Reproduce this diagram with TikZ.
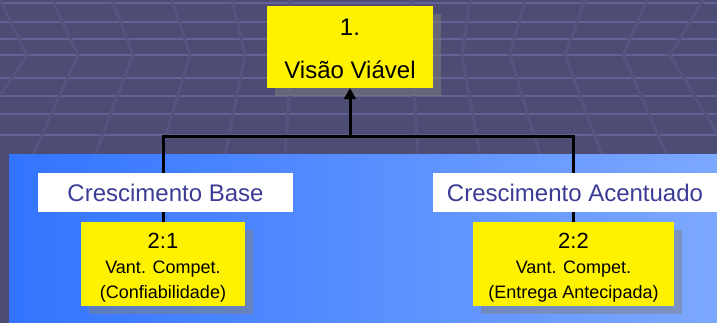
\documentclass[tikz,border=0pt]{standalone}
\usepackage{fontspec}
\setmainfont{Liberation Sans}
\usetikzlibrary{positioning,arrows.meta,shadows}

\definecolor{fundo}{RGB}{76,76,116}
\definecolor{grade}{RGB}{98,98,150}
\definecolor{trilho}{RGB}{84,84,126}
\definecolor{azulesq}{RGB}{51,116,255}
\definecolor{azuldir}{RGB}{124,168,255}
\definecolor{rotulo}{RGB}{60,60,150}

\pgfdeclarelayer{piso}
\pgfdeclarelayer{linhas}
\pgfsetlayers{piso,linhas,main}

\begin{document}
\begin{tikzpicture}[x=1pt,y=1pt,node distance=10pt]
	\tikzset{
		meta/.style={rectangle, fill=yellow, inner sep=0pt, align=center, text=black,
			drop shadow={shadow xshift=8pt, shadow yshift=-8pt, fill=gray, opacity=.5}},
		faixa/.style={rectangle, fill=white, inner sep=0pt, minimum height=39pt, text=rotulo,
			font=\fontsize{24}{29}\selectfont},
		ligacao/.style={line width=3pt, black},
		seta/.style={ligacao, -{Triangle[width=12pt,length=11pt]}}
	}
	\useasboundingbox (0,0) rectangle (717,323);

	% fundo
	\begin{pgfonlayer}{piso}
		\fill[fundo] (0,0) rectangle (717,323);
		\foreach \y in {3,22,39,55,78,96,114,135}
			\draw[grade, line width=1.5pt] (0,323-\y) -- (717,323-\y);
		\foreach \a/\b/\c in {0/27/-40, 52/78/33, 112/133/95, 172/190/160, 232/245/225, 290/292/285,
			413/412/418, 470/462/480, 525/510/540, 585/565/602, 647/623/667, 703/670/730}
			\draw[trilho, line width=3pt] (\a,323) -- (\b,268) -- (\c,168);
		\shade[left color=azulesq, right color=azuldir] (9,0) rectangle (717,168);
	\end{pgfonlayer}

	\node[meta, minimum width=166pt, minimum height=82pt, font=\fontsize{24}{29}\selectfont] (visao) at (350,276) {\rule{0pt}{21pt}1.\\[14pt]Visão Viável};
	\node[faixa, minimum width=255pt] (base) at (165.5,130.5) {Crescimento Base};
	\node[faixa, minimum width=284pt] (acentuado) at (575,130.5) {Crescimento Acentuado};
	\node[meta, minimum width=164pt, minimum height=84pt, below=10pt of base, xshift=-2.5pt, font=\fontsize{18}{25}\selectfont] (confiab) {{\fontsize{22}{24}\selectfont\rule{0pt}{22pt}2:1}\\Vant. Compet.\\(Confiabilidade)};
	\node[meta, minimum width=201pt, minimum height=84pt, below=10pt of acentuado, xshift=-1.5pt, font=\fontsize{18}{25}\selectfont] (entrega) {{\fontsize{22}{24}\selectfont\rule{0pt}{22pt}2:2}\\Vant. Compet.\\(Entrega Antecipada)};

	\coordinate (barra) at (350,186);
	\begin{pgfonlayer}{linhas}
		\draw[ligacao] (confiab.north) -- (confiab.north |- barra) -- (entrega.north |- barra) -- (entrega.north);
	\end{pgfonlayer}
	\draw[seta] (visao.south |- barra) -- (visao.south);
\end{tikzpicture}
\end{document}
